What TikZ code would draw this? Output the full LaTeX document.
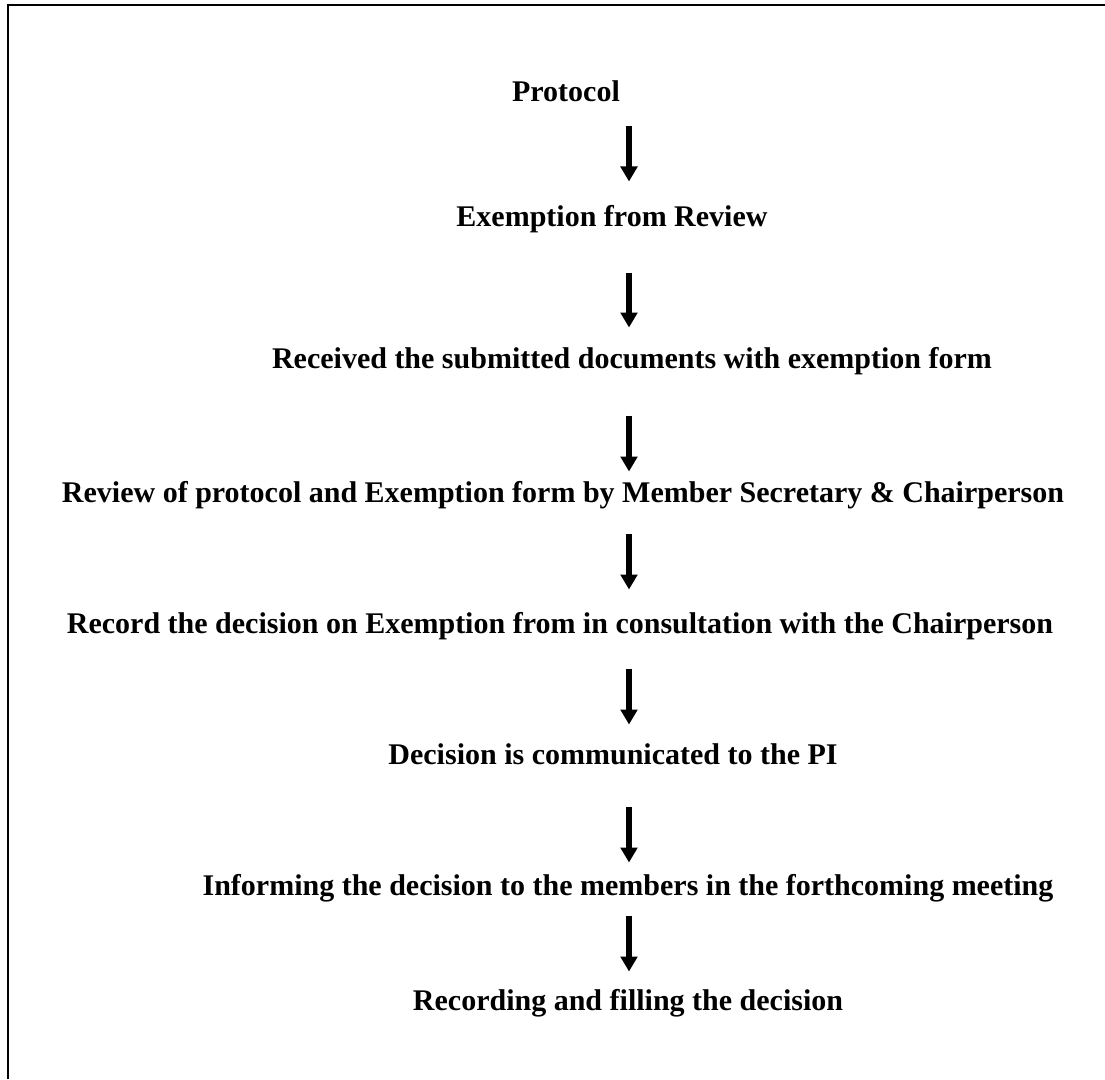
\documentclass[tikz,border=0pt]{standalone}
\usepackage{fontspec}
\setmainfont{Liberation Serif}
\usetikzlibrary{arrows.meta}

\begin{document}
\begin{tikzpicture}[
    x=0.4pt, y=-0.4pt,
    stage/.style={anchor=base, inner sep=0pt, text height=9pt, text depth=3pt, font=\bfseries\fontsize{12}{14}\selectfont},
    flow/.style={draw=black, line width=2.2pt, -{Triangle[width=6.6pt,length=6pt]}},
    frame/.style={draw=black, line width=0.8pt}
]
\useasboundingbox (0,0) rectangle (1105,1079);

% page frame (top and left only)
\draw[frame] (8,1079) -- (8,5) -- (1105,5);

% arrow axis
\coordinate (axis) at (629,0);

% steps
\node[stage] (s0) at (566, 102) {Protocol};
\node[stage] (s1) at (612, 226) {Exemption from Review};
\node[stage] (s2) at (632, 368) {Received the submitted documents with exemption form};
\node[stage] (s3) at (563, 502) {Review of protocol and Exemption form by Member Secretary \& Chairperson};
\node[stage] (s4) at (560, 633) {Record the decision on Exemption from in consultation with the Chairperson};
\node[stage] (s5) at (613, 764) {Decision is communicated to the PI};
\node[stage] (s6) at (628, 895) {Informing the decision to the members in the forthcoming meeting};
\node[stage] (s7) at (628, 1010) {Recording and filling the decision};

% arrows
\draw[flow, shorten <=6.2pt, shorten >=8.6pt] (s0.south -| axis) -- (s1.north -| axis);
\draw[flow, shorten <=15.4pt, shorten >=7pt] (s1.south -| axis) -- (s2.north -| axis);
\draw[flow, shorten <=15.8pt, shorten >=3pt] (s2.south -| axis) -- (s3.north -| axis);
\draw[flow, shorten <=9.4pt, shorten >=8.2pt] (s3.south -| axis) -- (s4.north -| axis);
\draw[flow, shorten <=11pt, shorten >=6.6pt] (s4.south -| axis) -- (s5.north -| axis);
\draw[flow, shorten <=13.8pt, shorten >=3.8pt] (s5.south -| axis) -- (s6.north -| axis);
\draw[flow, shorten <=5pt, shorten >=6.2pt] (s6.south -| axis) -- (s7.north -| axis);
\end{tikzpicture}
\end{document}
